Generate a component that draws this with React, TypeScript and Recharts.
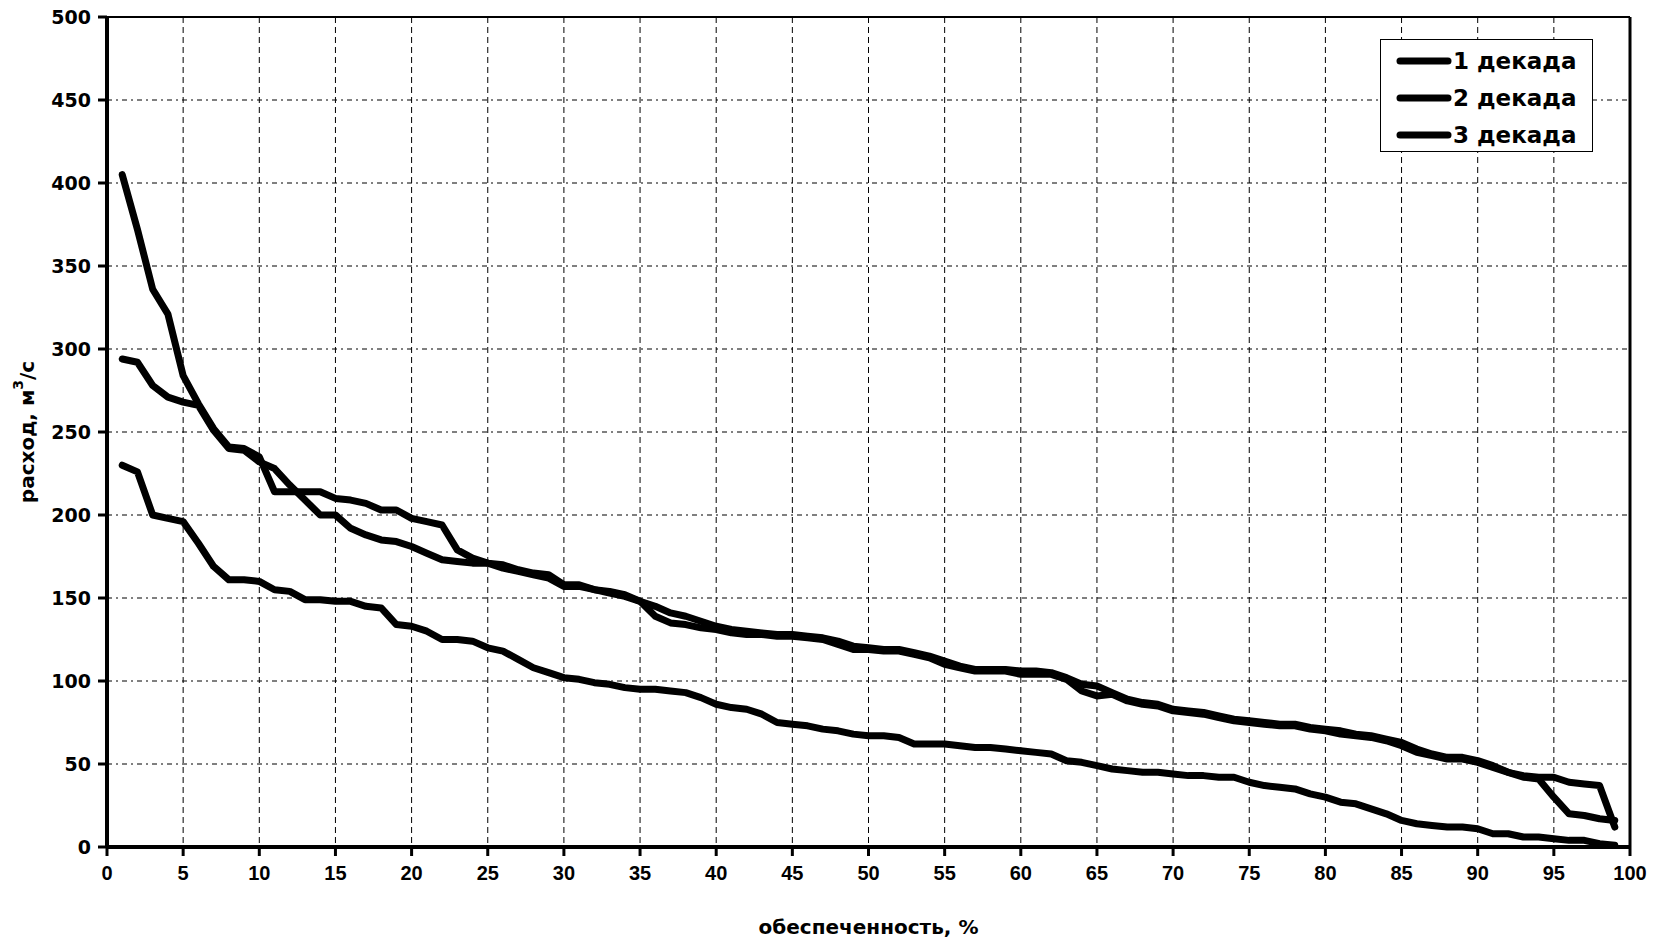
import { LineChart, Line, XAxis, YAxis, CartesianGrid, Legend, ReferenceLine, Label } from "recharts";

const FONT = '"Liberation Sans", Arial, sans-serif';
const WIDE = '"DejaVu Sans", Verdana, sans-serif';

const percent = [
  1, 2, 3, 4, 5, 6, 7, 8, 9, 10, 11, 12, 13, 14, 15, 16, 17, 18, 19, 20,
  21, 22, 23, 24, 25, 26, 27, 28, 29, 30, 31, 32, 33, 34, 35, 36, 37, 38, 39, 40,
  41, 42, 43, 44, 45, 46, 47, 48, 49, 50, 51, 52, 53, 54, 55, 56, 57, 58, 59, 60,
  61, 62, 63, 64, 65, 66, 67, 68, 69, 70, 71, 72, 73, 74, 75, 76, 77, 78, 79, 80,
  81, 82, 83, 84, 85, 86, 87, 88, 89, 90, 91, 92, 93, 94, 95, 96, 97, 98, 99,
];

// 1 декада
const decade1 = [
  405, 372, 336, 321, 284, 267, 252, 241, 240, 235, 214, 214, 214, 214, 210, 209, 207, 203, 203, 198,
  196, 194, 179, 174, 171, 170, 167, 165, 164, 158, 158, 155, 154, 152, 148, 145, 141, 139, 136, 133,
  131, 130, 129, 128, 128, 127, 126, 124, 121, 120, 119, 119, 117, 115, 112, 109, 107, 107, 107, 106,
  106, 105, 102, 98, 97, 93, 89, 87, 86, 83, 82, 81, 79, 77, 76, 75, 74, 74, 72, 71,
  70, 68, 67, 65, 63, 59, 56, 54, 54, 52, 49, 45, 43, 42, 42, 39, 38, 37, 12,
];

// 2 декада
const decade2 = [
  294, 292, 278, 271, 268, 266, 251, 240, 239, 232, 228, 218, 209, 200, 200, 192, 188, 185, 184, 181,
  177, 173, 172, 171, 171, 168, 166, 164, 162, 157, 157, 155, 153, 151, 148, 139, 135, 134, 132, 131,
  129, 128, 128, 127, 127, 126, 125, 122, 119, 119, 118, 118, 116, 114, 110, 108, 106, 106, 106, 104,
  104, 104, 101, 94, 91, 92, 88, 86, 85, 82, 81, 80, 78, 76, 75, 74, 73, 73, 71, 70,
  68, 67, 66, 64, 61, 57, 55, 53, 53, 51, 48, 45, 42, 41, 30, 20, 19, 17, 16,
];

// 3 декада
const decade3 = [
  230, 226, 200, 198, 196, 183, 169, 161, 161, 160, 155, 154, 149, 149, 148, 148, 145, 144, 134, 133,
  130, 125, 125, 124, 120, 118, 113, 108, 105, 102, 101, 99, 98, 96, 95, 95, 94, 93, 90, 86,
  84, 83, 80, 75, 74, 73, 71, 70, 68, 67, 67, 66, 62, 62, 62, 61, 60, 60, 59, 58,
  57, 56, 52, 51, 49, 47, 46, 45, 45, 44, 43, 43, 42, 42, 39, 37, 36, 35, 32, 30,
  27, 26, 23, 20, 16, 14, 13, 12, 12, 11, 8, 8, 6, 6, 5, 4, 4, 2, 1,
];

const seriesNames = ["1 декада", "2 декада", "3 декада"];
const xTicks = [0, 5, 10, 15, 20, 25, 30, 35, 40, 45, 50, 55, 60, 65, 70, 75, 80, 85, 90, 95, 100];
const yTicks = [0, 50, 100, 150, 200, 250, 300, 350, 400, 450, 500];

const data = percent.map((p, i) => ({
  p,
  d1: decade1[i],
  d2: decade2[i],
  d3: decade3[i],
}));

function YTitle({ viewBox }: any) {
  const cx = 27;
  const cy = viewBox.y + viewBox.height / 2;
  return (
    <text
      x={cx}
      y={cy}
      transform={`rotate(-90 ${cx} ${cy})`}
      textAnchor="middle"
      dominantBaseline="central"
      fontFamily={WIDE}
      fontWeight="bold"
      fontSize={20}
      fill="#000"
    >
      расход, м<tspan dy={-9} fontSize={14}>3</tspan>
      <tspan dy={9}>/с</tspan>
    </text>
  );
}

function LegendBox({ payload }: any) {
  return (
    <div
      style={{
        border: "1.5px solid #000",
        background: "#fff",
        padding: "2px 0 0 15px",
        boxSizing: "border-box",
        height: 113,
      }}
    >
      {(payload || []).map((entry: any) => (
        <div key={entry.value} style={{ display: "flex", alignItems: "center", height: 37 }}>
          <svg width={56} height={10}>
            <line x1={4} y1={5} x2={52} y2={5} stroke="#000" strokeWidth={7} strokeLinecap="round" />
          </svg>
          <span
            style={{
              fontFamily: WIDE,
              fontWeight: 700,
              fontSize: 23,
              marginLeft: 1,
              color: "#000",
            }}
          >
            {entry.value}
          </span>
        </div>
      ))}
    </div>
  );
}

export default function App() {
  const xTick = { fill: "#000", fontSize: 20, fontWeight: 700, fontFamily: FONT };
  const yTick = { fill: "#000", fontSize: 19, fontWeight: 700, fontFamily: WIDE };
  return (
    <div style={{ width: 1654, height: 940, background: "#fff" }}>
      <style>{"body{margin:0}"}</style>
      <LineChart width={1654} height={940} data={data} margin={{ top: 17, right: 24, bottom: 0, left: 0 }}>
        <CartesianGrid horizontal vertical={false} stroke="#000" strokeWidth={1} strokeDasharray="5 4 2 4" />
        <CartesianGrid horizontal={false} vertical stroke="#000" strokeWidth={1} strokeDasharray="6 4" />
        <XAxis
          type="number"
          dataKey="p"
          domain={[0, 100]}
          ticks={xTicks}
          interval={0}
          height={93}
          tick={xTick}
          tickSize={9}
          tickMargin={10}
          axisLine={{ stroke: "#000", strokeWidth: 4 }}
          tickLine={{ stroke: "#000", strokeWidth: 3 }}
        >
          <Label
            value="обеспеченность, %"
            position="insideBottom"
            offset={6}
            style={{ fill: "#000", fontSize: 20, fontWeight: 700, fontFamily: WIDE }}
          />
        </XAxis>
        <YAxis
          type="number"
          domain={[0, 500]}
          ticks={yTicks}
          interval={0}
          width={107}
          tick={yTick}
          tickSize={9}
          tickMargin={7}
          axisLine={{ stroke: "#000", strokeWidth: 4 }}
          tickLine={{ stroke: "#000", strokeWidth: 3 }}
        >
          <Label content={<YTitle />} />
        </YAxis>
        <ReferenceLine y={500} stroke="#000" strokeWidth={2} />
        <ReferenceLine x={100} stroke="#000" strokeWidth={3} />
        <Legend
          layout="vertical"
          align="center"
          verticalAlign="middle"
          wrapperStyle={{ left: 1380, top: 39, width: 213 }}
          content={<LegendBox />}
        />
        <Line type="linear" dataKey="d1" name={seriesNames[0]} stroke="#000" strokeWidth={7} dot={false} strokeLinejoin="round" strokeLinecap="round" isAnimationActive={false} />
        <Line type="linear" dataKey="d2" name={seriesNames[1]} stroke="#000" strokeWidth={7} dot={false} strokeLinejoin="round" strokeLinecap="round" isAnimationActive={false} />
        <Line type="linear" dataKey="d3" name={seriesNames[2]} stroke="#000" strokeWidth={7} dot={false} strokeLinejoin="round" strokeLinecap="round" isAnimationActive={false} />
      </LineChart>
    </div>
  );
}
